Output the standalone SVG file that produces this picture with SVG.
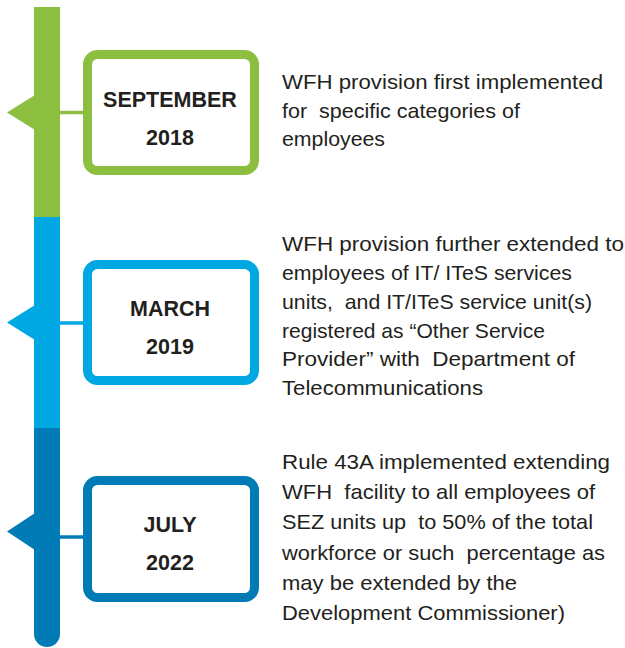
<svg xmlns="http://www.w3.org/2000/svg" width="625" height="648" viewBox="0 0 625 648">
  <style>
    .lbl { font-family: "Liberation Sans", Arial, sans-serif; font-weight: bold; font-size: 21.5px; fill: #231f20; text-anchor: middle; }
    .txt { font-family: "Liberation Sans", Arial, sans-serif; font-size: 21px; fill: #231f20; white-space: pre; }
    .box { fill: #ffffff; stroke-width: 9; }
    .link { stroke-width: 3.5; }
  </style>
  <rect width="625" height="648" fill="#ffffff"/>

  <!-- timeline spine -->
  <g id="spine">
    <rect x="34" y="7" width="26" height="210" fill="#8cbf3f"/>
    <rect x="34" y="217" width="26" height="211" fill="#00a8e3"/>
    <path d="M34 428 H60 V634 A13 13 0 0 1 34 634 Z" fill="#007bb6"/>
    <polygon points="7,112.5 35,95 35,130" fill="#8cbf3f"/>
    <polygon points="7,322.5 35,305 35,340" fill="#00a8e3"/>
    <polygon points="7,531.5 35,513 35,550" fill="#007bb6"/>
  </g>

  <!-- connectors from spine to boxes -->
  <g id="connectors">
    <line class="link" x1="60" y1="112.5" x2="85" y2="112.5" stroke="#8cbf3f"/>
    <line class="link" x1="60" y1="323" x2="85" y2="323" stroke="#00a8e3"/>
    <line class="link" x1="60" y1="537" x2="85" y2="537" stroke="#007bb6"/>
  </g>

  <g id="sep2018">
    <rect class="box" x="87.5" y="54.5" width="167" height="116" rx="10" stroke="#8cbf3f"/>
    <text class="lbl" x="170" y="107">SEPTEMBER</text>
    <text class="lbl" x="170" y="144.5">2018</text>
  </g>
  <g id="sep2018-text">
    <text class="txt" x="282" y="89" textLength="321" lengthAdjust="spacingAndGlyphs">WFH provision first implemented</text>
    <text class="txt" x="282" y="117.5" textLength="238" lengthAdjust="spacingAndGlyphs">for  specific categories of</text>
    <text class="txt" x="282" y="145.5" textLength="103" lengthAdjust="spacingAndGlyphs">employees</text>
  </g>

  <g id="mar2019">
    <rect class="box" x="87.5" y="264.5" width="167" height="116" rx="10" stroke="#00a8e3"/>
    <text class="lbl" x="170" y="316">MARCH</text>
    <text class="lbl" x="170" y="354">2019</text>
  </g>
  <g id="mar2019-text">
    <text class="txt" x="282" y="251" textLength="342" lengthAdjust="spacingAndGlyphs">WFH provision further extended to</text>
    <text class="txt" x="282" y="280" textLength="290" lengthAdjust="spacingAndGlyphs">employees of IT/ ITeS services</text>
    <text class="txt" x="282" y="309" textLength="310" lengthAdjust="spacingAndGlyphs">units,  and IT/ITeS service unit(s)</text>
    <text class="txt" x="282" y="337.5" textLength="263" lengthAdjust="spacingAndGlyphs">registered as “Other Service</text>
    <text class="txt" x="282" y="366" textLength="293" lengthAdjust="spacingAndGlyphs">Provider” with  Department of</text>
    <text class="txt" x="282" y="395" textLength="201" lengthAdjust="spacingAndGlyphs">Telecommunications</text>
  </g>

  <g id="jul2022">
    <rect class="box" x="87.5" y="480.5" width="167" height="117" rx="10" stroke="#007bb6"/>
    <text class="lbl" x="170" y="532">JULY</text>
    <text class="lbl" x="170" y="570">2022</text>
  </g>
  <g id="jul2022-text">
    <text class="txt" x="282" y="468.5" textLength="328" lengthAdjust="spacingAndGlyphs">Rule 43A implemented extending</text>
    <text class="txt" x="282" y="499" textLength="313" lengthAdjust="spacingAndGlyphs">WFH  facility to all employees of</text>
    <text class="txt" x="282" y="529" textLength="311" lengthAdjust="spacingAndGlyphs">SEZ units up  to 50% of the total</text>
    <text class="txt" x="282" y="559.5" textLength="323" lengthAdjust="spacingAndGlyphs">workforce or such  percentage as</text>
    <text class="txt" x="282" y="590" textLength="235" lengthAdjust="spacingAndGlyphs">may be extended by the</text>
    <text class="txt" x="282" y="620" textLength="283" lengthAdjust="spacingAndGlyphs">Development Commissioner)</text>
  </g>
</svg>
